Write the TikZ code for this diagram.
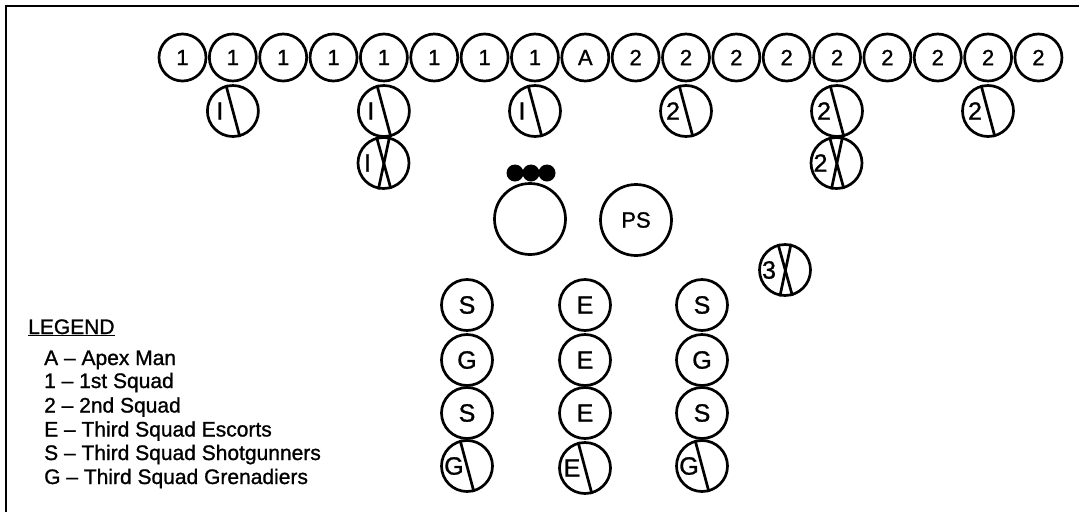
\documentclass[tikz,border=0pt]{standalone}
\usepackage{fontspec}
\setmainfont{Liberation Sans}[FakeBold=1.1]
\begin{document}
\begin{tikzpicture}[x=1pt,y=-1pt,
  soldier/.style={draw,circle,line width=2.7pt,minimum size=47pt,inner sep=0pt,font=\fontsize{22}{22}\selectfont},
  member/.style={draw,circle,line width=2.7pt,minimum size=51pt,inner sep=0pt,font=\fontsize{25}{25}\selectfont},
  big/.style={draw,circle,line width=2.7pt,minimum size=71pt,inner sep=0pt,font=\fontsize{22}{22}\selectfont},
  dot/.style={fill,circle,minimum size=17pt,inner sep=0pt},
  tag/.style={inner sep=0pt,font=\fontsize{25}{25}\selectfont},
  slash/.style={line width=2.7pt},
  frame/.style={line width=2.4pt},
  legendhead/.style={anchor=base west,inner sep=0pt,font=\fontsize{21}{21}\selectfont},
  legendtext/.style={anchor=base west,inner sep=0pt,font=\fontsize{21}{21}\selectfont}]
\useasboundingbox (0,0) rectangle (1079,512);
\draw[frame] (6,512) -- (6,6) -- (1079,6);
% top line
\foreach \lab [count=\i from 0] in {1,1,1,1,1,1,1,1,A,2,2,2,2,2,2,2,2,2}
  \node[soldier] (t\i) at ({182.5+50.35*\i},57.5) {\lab};
% single-slash circles
\foreach \n/\x/\y/\l in {i1/232.9/111/I, i2/383.9/111/I, i3/535/111/I, j1/686/111/2, j2/837/111/2, j3/988/111/2, g1/467/466/G, e4/585/468/E, g2/702/466/G} {
  \node[member] (\n) at (\x,\y) {};
  \node[tag] (\n-l) at ([xshift=-13pt]\n.center) {\l};
  \draw[slash] (\n.105) -- (\n.-75);
}
% crossed circles
\foreach \n/\x/\y/\l in {x1/383.5/163/I, x2/836.5/163/2, x3/785/270/3} {
  \node[member] (\n) at (\x,\y) {};
  \node[tag] (\n-l) at ([xshift=-16pt]\n.center) {\l};
  \draw[slash] (\n.105) -- (\n.-74);
  \draw[slash] (\n.77) -- (\n.-101);
}
% principal and PS
\node[big] (vip) at (530,219) {};
\node[dot] (d1) at (515,173) {};
\node[dot] (d2) at (531,173) {};
\node[dot] (d3) at (547,173) {};
\node[big] (ps) at (636,220) {PS};
% third squad columns
\foreach \n/\x/\y/\l in {s1/467/305/S, g3/467/360/G, s2/467/413/S,
                         e1/585/305/E, e2/585/360/E, e3/585/413/E,
                         s3/702/305/S, g4/702/360/G, s4/702/413/S}
  \node[member] (\n) at (\x,\y) {\l};
% legend
\node[legendhead] (lh) at (28,334) {\underline{LEGEND}};
\node[legendtext] (la) at (44,365) {A – Apex Man};
\node[legendtext] (l1) at (44,388) {1 – 1st Squad};
\node[legendtext] (l2) at (44,412.5) {2 – 2nd Squad};
\node[legendtext] (le) at (44,436.5) {E – Third Squad Escorts};
\node[legendtext] (ls) at (44,460) {S – Third Squad Shotgunners};
\node[legendtext] (lg) at (44,484) {G – Third Squad Grenadiers};
\end{tikzpicture}
\end{document}
